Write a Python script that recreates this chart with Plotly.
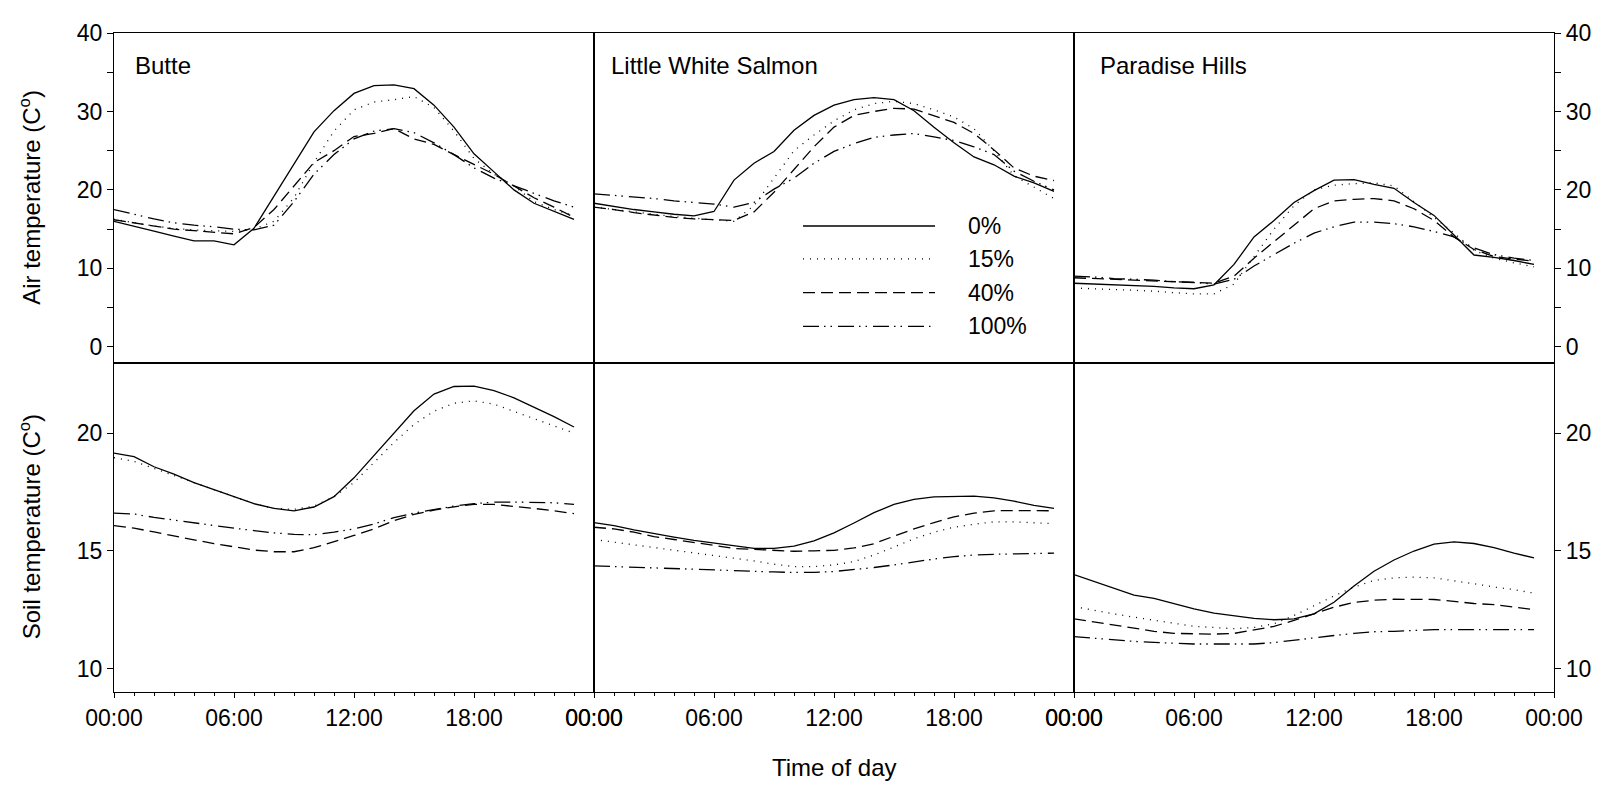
import plotly.graph_objects as go
from plotly.subplots import make_subplots

hours = list(range(24))
sites = ["Butte", "Little White Salmon", "Paradise Hills"]
treatments = ["0%", "15%", "40%", "100%"]
x_tick_vals = [0, 6, 12, 18, 24]
x_tick_text = ["00:00", "06:00", "12:00", "18:00", "00:00"]

# ---- Air temperature (C) ----
butte_air_0 = [16.0, 15.4, 14.75, 14.1, 13.5, 13.5, 13.0, 15.1, 19.25, 23.4, 27.4, 30.1, 32.3, 33.3,
               33.4, 32.9, 30.8, 28.0, 24.6, 22.3, 20.0, 18.3, 17.25, 16.25]
butte_air_15 = [16.25, 15.8, 15.4, 15.1, 14.9, 14.8, 14.7, 15.0, 16.0, 19.0, 23.5, 27.5, 30.2, 31.2,
                31.5, 31.9, 30.5, 27.5, 24.0, 22.0, 20.5, 18.5, 17.5, 16.7]
butte_air_40 = [16.2, 15.8, 15.4, 15.0, 14.8, 14.6, 14.4, 15.2, 17.5, 20.5, 23.5, 25.0, 26.8, 27.2,
                27.8, 26.5, 25.8, 24.5, 23.2, 22.0, 20.5, 19.0, 17.8, 16.5]
butte_air_100 = [17.5, 16.9, 16.3, 15.8, 15.5, 15.3, 15.0, 14.9, 15.5, 18.5, 22.0, 24.5, 26.5, 27.5,
                 27.8, 27.3, 26.0, 24.5, 22.8, 21.5, 20.5, 19.5, 18.6, 17.8]

lws_air_0 = [18.3, 17.9, 17.5, 17.2, 16.9, 16.7, 17.25, 21.25, 23.4, 24.9, 27.6, 29.5, 30.8, 31.5,
             31.75, 31.5, 30.1, 28.0, 26.0, 24.2, 23.2, 21.75, 20.9, 19.8]
lws_air_15 = [17.8, 17.5, 17.2, 16.9, 16.6, 16.4, 16.2, 16.0, 18.0, 21.5, 25.0, 27.0, 28.8, 30.2,
              31.0, 31.3, 31.0, 30.2, 29.3, 27.8, 25.0, 21.8, 20.3, 18.9]
lws_air_40 = [17.8, 17.5, 17.1, 16.8, 16.5, 16.3, 16.2, 16.1, 17.2, 19.7, 22.6, 25.5, 28.0, 29.5,
              30.0, 30.4, 30.3, 29.5, 28.6, 27.2, 25.1, 22.8, 21.75, 21.2]
lws_air_100 = [19.5, 19.3, 19.1, 18.9, 18.6, 18.4, 18.2, 17.8, 18.4, 20.1, 21.5, 23.4, 24.9, 25.9,
               26.7, 27.0, 27.2, 26.75, 26.3, 25.5, 24.5, 22.4, 21.1, 20.0]

ph_air_0 = [8.1, 8.0, 7.9, 7.8, 7.7, 7.5, 7.4, 7.9, 10.5, 14.0, 16.1, 18.4, 19.9, 21.25,
            21.3, 20.7, 20.2, 18.4, 16.75, 14.25, 11.7, 11.4, 11.0, 10.5]
ph_air_15 = [7.5, 7.4, 7.3, 7.2, 7.1, 6.9, 6.75, 6.75, 8.0, 11.5, 15.0, 18.0, 20.0, 20.6,
             20.8, 20.9, 20.5, 18.5, 16.5, 14.5, 12.3, 11.3, 10.7, 10.2]
ph_air_40 = [8.8, 8.7, 8.6, 8.5, 8.4, 8.3, 8.2, 8.1, 9.0, 11.3, 13.4, 15.5, 17.6, 18.6,
             18.8, 18.9, 18.6, 17.6, 16.1, 14.0, 12.4, 11.5, 11.2, 10.9]
ph_air_100 = [9.0, 8.9, 8.7, 8.6, 8.5, 8.3, 8.2, 8.0, 8.6, 10.3, 11.75, 13.2, 14.5, 15.3,
              15.9, 15.9, 15.7, 15.3, 14.7, 14.0, 12.6, 11.75, 11.3, 11.0]

# ---- Soil temperature (C) ----
butte_soil_0 = [19.15, 19.0, 18.57, 18.26, 17.9, 17.6, 17.3, 17.0, 16.8, 16.7, 16.86, 17.3, 18.1, 19.05,
                20.0, 20.95, 21.66, 21.98, 22.0, 21.8, 21.5, 21.1, 20.7, 20.26]
butte_soil_15 = [18.96, 18.8, 18.5, 18.2, 17.9, 17.6, 17.3, 17.0, 16.8, 16.76, 16.9, 17.3, 17.9, 18.77,
                 19.6, 20.37, 20.93, 21.27, 21.37, 21.23, 20.93, 20.6, 20.3, 20.0]
butte_soil_40 = [16.07, 15.96, 15.8, 15.63, 15.45, 15.3, 15.17, 15.03, 14.96, 14.96, 15.13, 15.38, 15.65, 15.93,
                 16.28, 16.55, 16.73, 16.87, 16.97, 16.97, 16.9, 16.8, 16.7, 16.58]
butte_soil_100 = [16.6, 16.56, 16.42, 16.3, 16.2, 16.07, 15.96, 15.86, 15.76, 15.7, 15.68, 15.79, 15.93, 16.14,
                  16.41, 16.6, 16.76, 16.9, 17.0, 17.07, 17.07, 17.07, 17.04, 16.97]

lws_soil_0 = [16.2, 16.07, 15.89, 15.72, 15.58, 15.44, 15.33, 15.19, 15.1, 15.1, 15.2, 15.42, 15.76, 16.18,
              16.62, 16.97, 17.18, 17.29, 17.32, 17.32, 17.25, 17.11, 16.93, 16.8]
lws_soil_15 = [15.48, 15.37, 15.26, 15.15, 15.04, 14.93, 14.82, 14.7, 14.57, 14.43, 14.33, 14.33, 14.4, 14.54,
               14.82, 15.16, 15.51, 15.79, 16.0, 16.13, 16.23, 16.23, 16.2, 16.15]
lws_soil_40 = [16.0, 15.93, 15.79, 15.6, 15.48, 15.37, 15.23, 15.1, 15.05, 15.0, 14.98, 15.0, 15.02, 15.12,
               15.3, 15.62, 15.93, 16.2, 16.44, 16.6, 16.7, 16.71, 16.7, 16.7]
lws_soil_100 = [14.36, 14.33, 14.3, 14.26, 14.23, 14.19, 14.17, 14.15, 14.12, 14.1, 14.08, 14.08, 14.12, 14.19,
                14.29, 14.4, 14.54, 14.65, 14.75, 14.82, 14.85, 14.87, 14.89, 14.9]

ph_soil_0 = [13.99, 13.71, 13.4, 13.12, 12.98, 12.76, 12.53, 12.35, 12.24, 12.13, 12.07, 12.11, 12.32, 12.81,
             13.5, 14.13, 14.61, 14.99, 15.28, 15.38, 15.31, 15.13, 14.9, 14.7]
ph_soil_15 = [12.63, 12.46, 12.32, 12.18, 12.04, 11.9, 11.79, 11.74, 11.69, 11.74, 11.9, 12.25, 12.67, 13.08,
              13.46, 13.74, 13.85, 13.88, 13.85, 13.74, 13.6, 13.46, 13.35, 13.2]
ph_soil_40 = [12.11, 11.97, 11.83, 11.69, 11.58, 11.49, 11.46, 11.46, 11.49, 11.65, 11.79, 12.04, 12.32, 12.6,
              12.81, 12.9, 12.94, 12.94, 12.93, 12.85, 12.76, 12.71, 12.6, 12.5]
ph_soil_100 = [11.35, 11.28, 11.21, 11.15, 11.11, 11.07, 11.04, 11.04, 11.04, 11.04, 11.1, 11.21, 11.32, 11.4,
               11.49, 11.56, 11.58, 11.63, 11.65, 11.65, 11.65, 11.65, 11.65, 11.65]

air_data = [
    [butte_air_0, butte_air_15, butte_air_40, butte_air_100],
    [lws_air_0, lws_air_15, lws_air_40, lws_air_100],
    [ph_air_0, ph_air_15, ph_air_40, ph_air_100],
]
soil_data = [
    [butte_soil_0, butte_soil_15, butte_soil_40, butte_soil_100],
    [lws_soil_0, lws_soil_15, lws_soil_40, lws_soil_100],
    [ph_soil_0, ph_soil_15, ph_soil_40, ph_soil_100],
]

FONT = "Liberation Sans, Arial, sans-serif"
dashes = ["solid", "1px,6px", "12px,6px", "16px,5px,1.5px,5px,1.5px,6px"]
LW = 1.3
AXW = 1.1

fig = make_subplots(rows=2, cols=3, horizontal_spacing=0, vertical_spacing=0)

for c in range(3):
    for t in range(4):
        fig.add_trace(go.Scatter(x=hours, y=air_data[c][t], mode="lines", name=treatments[t],
                                 showlegend=False,
                                 line=dict(color="black", width=LW, dash=dashes[t])),
                      row=1, col=c + 1)
        fig.add_trace(go.Scatter(x=hours, y=soil_data[c][t], mode="lines", name=treatments[t],
                                 showlegend=False,
                                 line=dict(color="black", width=LW, dash=dashes[t])),
                      row=2, col=c + 1)

tickfont = dict(family=FONT, size=23, color="black")
for c in range(3):
    dom = [c / 3, (c + 1) / 3]
    fig.update_xaxes(row=1, col=c + 1, domain=dom, range=[0, 24], showline=True, mirror=True,
                     linecolor="black", linewidth=AXW, ticks="", showticklabels=False,
                     showgrid=False, zeroline=False)
    fig.update_xaxes(row=2, col=c + 1, domain=dom, range=[0, 24], showline=True, mirror=True,
                     linecolor="black", linewidth=AXW, ticks="outside", ticklen=5, tickwidth=1.2,
                     tickcolor="black", tickmode="array", tickvals=x_tick_vals, ticktext=x_tick_text,
                     tickfont=tickfont, showgrid=False, zeroline=False,
                     minor=dict(tickmode="linear", tick0=0, dtick=1, ticks="outside", ticklen=3,
                                tickcolor="black", tickwidth=1, showgrid=False))

    if c == 0:
        side, show = "left", True
    elif c == 2:
        side, show = "right", True
    else:
        side, show = "left", False

    fig.update_yaxes(row=1, col=c + 1, domain=[0.5, 1.0], range=[-2, 40], side=side,
                     showline=True, mirror=True, linecolor="black", linewidth=AXW,
                     ticks="outside" if show else "", ticklen=6, tickwidth=1.2, tickcolor="black",
                     showticklabels=show, tickvals=[0, 10, 20, 30, 40], tickfont=tickfont,
                     showgrid=False, zeroline=False,
                     minor=dict(tickmode="linear", tick0=0, dtick=5, ticks="outside" if show else "",
                                ticklen=6, tickcolor="black", tickwidth=1.2, showgrid=False))
    fig.update_yaxes(row=2, col=c + 1, domain=[0.0, 0.5], range=[9, 23], side=side,
                     showline=True, mirror=True, linecolor="black", linewidth=AXW,
                     ticks="outside" if show else "", ticklen=6, tickwidth=1.2, tickcolor="black",
                     showticklabels=show, tickvals=[10, 15, 20], tickfont=tickfont,
                     showgrid=False, zeroline=False)

annotations = []
title_x = [0.04, 0.031, 0.05]
for c, s in enumerate(sites):
    xr = "x domain" if c == 0 else f"x{c + 1} domain"
    yr = "y domain" if c == 0 else f"y{c + 1} domain"
    annotations.append(dict(text=s, xref=xr, yref=yr, x=title_x[c], y=0.9, xanchor="left",
                            yanchor="middle", showarrow=False,
                            font=dict(family=FONT, size=24, color="black")))

# legend drawn inside the Little White Salmon air panel
leg_y = [15.4, 11.2, 6.9, 2.6]
shapes = []
for t in range(4):
    shapes.append(dict(type="line", xref="x2", yref="y2", x0=10.45, x1=17.05, y0=leg_y[t], y1=leg_y[t],
                       line=dict(color="black", width=LW, dash=dashes[t])))
    annotations.append(dict(text=treatments[t], xref="x2", yref="y2", x=18.6, y=leg_y[t],
                            xanchor="left", yanchor="middle", showarrow=False,
                            font=dict(family=FONT, size=23, color="black")))

annotations.append(dict(text="Air temperature (C<sup>o</sup>)", xref="paper", yref="paper",
                        x=-0.0583, y=0.75, xanchor="center", yanchor="middle", textangle=-90,
                        showarrow=False, font=dict(family=FONT, size=24, color="black")))
annotations.append(dict(text="Soil temperature (C<sup>o</sup>)", xref="paper", yref="paper",
                        x=-0.0583, y=0.25, xanchor="center", yanchor="middle", textangle=-90,
                        showarrow=False, font=dict(family=FONT, size=24, color="black")))
annotations.append(dict(text="Time of day", xref="paper", yref="paper", x=0.5, y=-0.115,
                        xanchor="center", yanchor="middle", showarrow=False,
                        font=dict(family=FONT, size=24, color="black")))

# page body keeps an 8px default margin, so the figure is sized to fit inside the window
fig.update_layout(width=1598, height=773, margin=dict(l=106, r=52, t=13, b=89),
                  paper_bgcolor="white", plot_bgcolor="white", showlegend=False,
                  annotations=annotations, shapes=shapes,
                  font=dict(family=FONT, size=23, color="black"))

fig.write_html("out.html")
